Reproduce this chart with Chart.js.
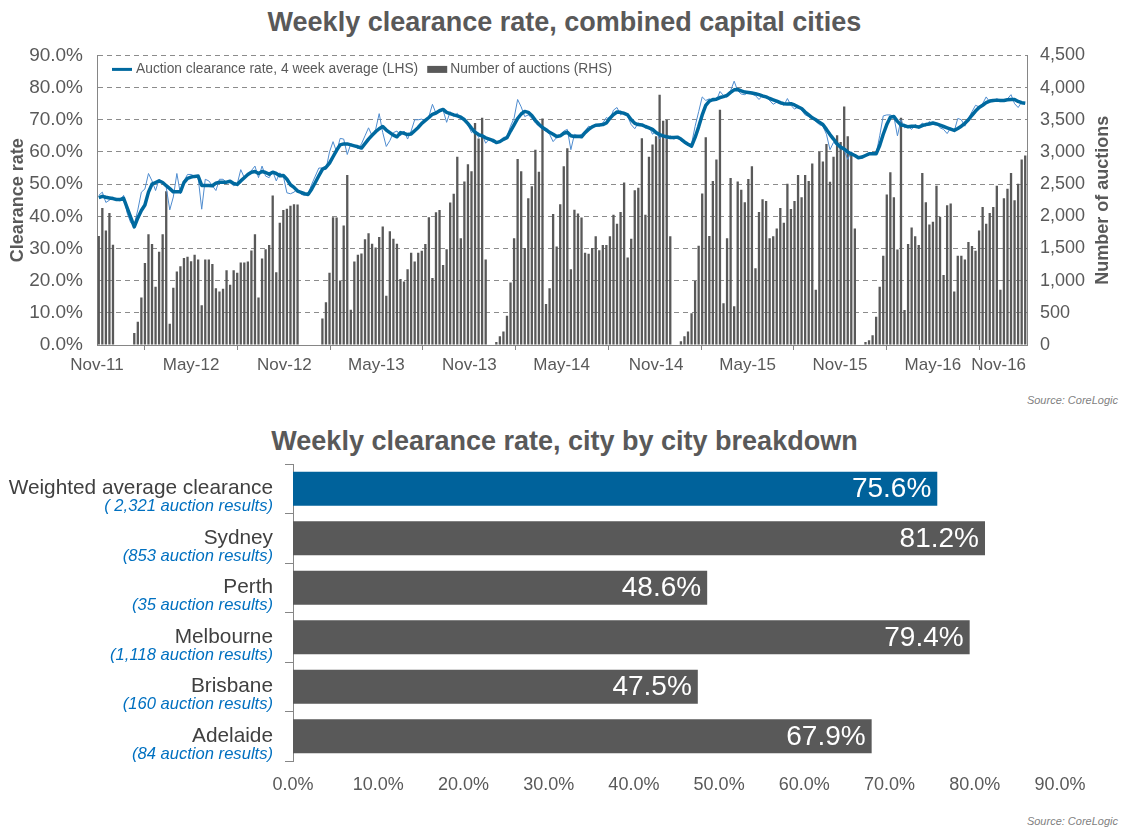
<!DOCTYPE html>
<html>
<head>
<meta charset="utf-8">
<title>Weekly clearance rate</title>
<script src="https://cdn.jsdelivr.net/npm/chart.js@4.4.0/dist/chart.umd.min.js"></script>
<style>
  html, body { margin: 0; padding: 0; background: #fff; }
  body { position: relative; width: 1129px; height: 834px; overflow: hidden; font-family: "Liberation Sans", Arial, sans-serif; }
  .title { position: absolute; left: 0; width: 1129px; text-align: center; font-size: 27px; font-weight: bold; color: #595959; line-height: 32px; }
  .source { position: absolute; right: 11px; font-size: 11px; font-style: italic; color: #7f7f7f; }
  .box { position: absolute; left: 0; width: 1129px; }
</style>
</head>
<body>
<div class="title" style="top:6px">Weekly clearance rate, combined capital cities</div>
<div class="box" style="top:30px;height:355px"><canvas id="weeklyChart"></canvas></div>
<div class="source" style="top:394px">Source: CoreLogic</div>
<div class="title" style="top:425px">Weekly clearance rate, city by city breakdown</div>
<div class="box" style="top:455px;height:355px"><canvas id="cityChart"></canvas></div>
<div class="source" style="top:815px">Source: CoreLogic</div>

<script>
// colours / fonts
const FONT = '"Liberation Sans", Arial, sans-serif';
const TEXT = '#595959';
const AXIS = '#868686';
const GRID = '#8c8c8c';
const BLUE_DARK = '#00699f';
const BLUE_LIGHT = '#4f8ccf';
const BLUE_BAR = '#00629b';
const GREY_BAR = '#595959';

// weekly auctions (RHS), Nov-11 .. Nov-16
const AUCTIONS = [
  1695, 2128, 1781, 2052, 1559, 0, 0, 0, 0, 0,
  186, 362, 739, 1273, 1720, 1569, 905, 1449, 1720, 2389,
  332, 890, 1142, 1222, 1353, 1373, 1303, 1403, 1328, 619,
  1328, 1328, 1258, 880, 830, 875, 1162, 936, 1162, 1122,
  1283, 1283, 1298, 1469, 1720, 739, 1343, 1489, 1554, 2324,
  1132, 1901, 2098, 2118, 2163, 2188, 2183, 0, 0, 0,
  0, 0, 0, 412, 664, 1122, 1987, 1982, 1001, 1856,
  2641, 548, 1298, 1403, 1423, 1645, 1735, 1574, 1514, 1680,
  1841, 765, 1766, 1650, 1574, 1026, 986, 1177, 1434, 1298,
  1434, 1464, 1569, 1987, 1041, 2062, 2098, 1242, 1489, 2213,
  2349, 2927, 1660, 2540, 2807, 2701, 3451, 3209, 3531, 1328,
  0, 0, 45, 136, 211, 453, 971, 1660, 2892, 2701,
  1509, 2279, 2465, 3033, 2691, 3521, 639, 880, 2037, 1529,
  2188, 2777, 3058, 1177, 2103, 2042, 1982, 1434, 1418, 1509,
  1690, 1474, 1554, 1554, 1690, 2022, 1886, 2067, 2525, 1358,
  1650, 2404, 2445, 3214, 2022, 2927, 3114, 3244, 3888, 3486,
  3501, 1690, 0, 0, 60, 136, 211, 493, 996, 1544,
  2354, 3229, 1695, 2550, 2882, 3657, 649, 1660, 2595, 604,
  2540, 2414, 2218, 2580, 2777, 1192, 2067, 2264, 2238, 1660,
  1690, 1811, 2128, 1901, 2505, 2113, 2238, 2641, 2294, 2641,
  2550, 2822, 860, 3003, 2852, 3124, 2535, 2927, 3259, 3154,
  3707, 3244, 2973, 1811, 0, 0, 45, 75, 151, 438,
  905, 1388, 2339, 2686, 2294, 1484, 3531, 543, 1569, 1826,
  1690, 1554, 2671, 2218, 1871, 1916, 2475, 1992, 1087, 2173,
  2198, 830, 1388, 1388, 1328, 1600, 1539, 1464, 1781, 2143,
  1886, 2052, 2143, 2475, 860, 2279, 2429, 2671, 2248, 2505,
  2882, 2943
];

// clearance rate, 4 week average (LHS)
const CLEARANCE_4WK = [
  45.8, 46.2, 45.9, 45.7, 45.5, 45.2, 45.2, 45.6, 42.6, 39.7,
  36.7, 39.5, 41.8, 43.5, 47.5, 50.0, 50.5, 51.0, 50.5, 49.5,
  48.6, 47.6, 47.6, 47.6, 50.5, 51.8, 52.2, 52.4, 52.5, 49.6,
  49.6, 49.6, 49.5, 50.3, 50.6, 50.6, 50.6, 50.9, 50.2, 49.9,
  51.0, 52.0, 53.0, 53.7, 53.9, 53.3, 53.9, 53.6, 53.1, 53.7,
  53.3, 52.6, 52.7, 51.5, 49.8, 49.0, 47.8, 47.4, 47.0, 46.8,
  48.5, 50.5, 52.6, 54.6, 55.2, 56.5, 58.5, 60.5, 62.2, 62.5,
  62.5, 62.2, 61.9, 61.6, 61.2, 62.6, 64.0, 65.2, 66.3, 67.2,
  67.9, 66.8, 66.0, 65.2, 64.7, 66.0, 65.8, 65.4, 65.6, 66.6,
  67.6, 68.9, 69.8, 70.7, 71.7, 72.1, 72.8, 73.2, 72.3, 71.9,
  71.5, 71.2, 70.8, 70.0, 68.8, 67.4, 66.1, 65.4, 65.0, 64.4,
  64.0, 63.6, 62.9, 63.2, 63.9, 64.4, 66.5, 68.4, 70.4, 71.8,
  72.6, 72.3, 71.3, 69.8, 68.6, 67.6, 66.9, 66.1, 65.5, 64.8,
  65.0, 65.8, 66.1, 65.0, 64.8, 64.9, 64.7, 66.0, 67.0, 67.8,
  68.3, 68.4, 68.5, 69.0, 70.5, 71.6, 72.4, 72.3, 72.0, 71.5,
  70.0, 68.9, 68.5, 68.4, 67.9, 67.5, 67.0, 66.0, 65.4, 65.0,
  64.7, 64.5, 64.5, 64.6, 64.0, 63.1, 62.4, 61.8, 64.5, 67.8,
  71.5, 74.5, 75.8, 76.3, 76.4, 76.9, 77.2, 77.6, 78.5, 79.3,
  79.4, 79.0, 78.6, 78.5, 78.3, 78.1, 77.8, 77.4, 77.1, 76.6,
  76.2, 75.8, 75.3, 75.0, 74.9, 75.0, 74.6, 74.0, 73.5, 72.4,
  71.5, 70.6, 70.0, 69.2, 68.5, 67.0, 65.4, 64.0, 62.5, 61.5,
  60.9, 60.0, 59.4, 58.9, 58.2, 58.4, 58.9, 59.4, 59.4, 59.4,
  62.0, 65.5, 68.5, 70.8, 71.0, 69.5, 68.4, 68.2, 67.8, 68.0,
  68.0, 67.7, 68.2, 68.5, 68.7, 69.0, 68.7, 68.3, 67.9, 67.5,
  67.1, 66.7, 67.3, 68.0, 68.9, 70.0, 71.4, 72.7, 73.8, 74.5,
  75.3, 75.8, 76.0, 76.1, 76.0, 76.0, 76.2, 76.3, 76.3, 75.7,
  75.3, 75.1
];

// clearance rate, weekly result (thin line)
const CLEARANCE_WEEKLY = [
  46.5, 47.5, 44.3, 45.0, 46.0, 45.0, 44.8, 46.5, 41.0, 38.0,
  37.5, 42.0, 47.5, 48.5, 53.3, 51.0, 48.0, 51.5, 50.5, 49.0,
  42.0, 46.0, 53.3, 47.0, 51.0, 53.0, 53.0, 52.5, 52.0, 42.2,
  51.5, 51.0, 49.5, 48.0, 51.5, 51.5, 50.5, 50.5, 49.5, 50.0,
  54.5, 52.0, 53.0, 54.2, 55.6, 52.0, 55.6, 52.5, 52.0, 54.0,
  51.0, 53.5, 52.5, 47.3, 47.0, 47.5, 48.5, 46.8, 46.5, 47.0,
  50.0, 52.5, 55.0, 55.0, 54.5, 60.0, 63.2, 60.0, 64.2, 64.0,
  59.2, 62.5, 62.0, 61.0, 62.5, 65.0, 67.5, 65.0, 67.0, 71.9,
  66.0, 61.7, 63.5, 66.0, 66.5, 65.0, 66.5, 64.0, 66.5, 70.0,
  70.0, 70.2, 69.5, 71.0, 74.8, 72.0, 72.5, 73.0, 69.2, 72.5,
  71.0, 72.0, 70.0, 70.5, 68.5, 66.0, 67.0, 64.5, 65.5, 62.7,
  64.0, 63.0, 63.0, 63.5, 64.5, 64.8, 68.0, 70.5, 76.3, 74.0,
  71.0, 71.5, 70.5, 69.0, 68.0, 67.0, 66.5, 65.5, 63.2, 64.5,
  65.0, 66.5, 67.0, 60.7, 65.5, 65.0, 65.5, 66.5, 68.0, 67.5,
  68.5, 68.0, 69.0, 70.7, 70.0, 73.0, 73.8, 71.5, 72.5, 71.0,
  68.5, 67.2, 69.0, 68.5, 67.5, 68.0, 65.5, 66.5, 64.0, 65.5,
  64.0, 65.0, 64.0, 64.5, 63.5, 62.8, 62.0, 62.5, 68.0, 72.5,
  77.1, 76.0, 76.5, 75.8, 76.0, 78.8, 77.5, 77.0, 79.0, 82.0,
  79.0, 78.0, 77.8, 78.5, 78.0, 77.5, 76.3, 77.5, 77.0, 76.0,
  74.8, 75.5, 75.0, 74.5, 76.6, 74.5, 73.3, 74.0, 73.0, 71.5,
  71.0, 70.5, 69.5, 68.5, 68.0, 65.5, 60.7, 63.0, 62.0, 61.0,
  60.5, 57.7, 60.0, 59.0, 58.5, 58.0, 59.0, 59.5, 59.4, 59.4,
  65.0, 71.2, 71.5, 71.5, 71.0, 65.0, 70.0, 67.5, 68.0, 67.0,
  68.5, 67.5, 69.0, 68.0, 69.5, 68.5, 69.0, 67.5, 67.0, 65.7,
  67.5, 66.5, 70.4, 70.0, 68.0, 70.5, 72.5, 74.5, 74.0, 75.0,
  77.1, 75.5, 76.0, 76.5, 76.0, 76.0, 76.5, 77.8, 75.0, 73.8,
  75.5, 75.0
];

// x axis: week number of each date label
const TICK_WEEKS = [-0.5, 26, 52.3, 78.2, 104.4, 130.4, 157, 182.8, 208.8, 235, 261.5];
const TICK_LABELS = ['Nov-11', 'May-12', 'Nov-12', 'May-13', 'Nov-13', 'May-14', 'Nov-14', 'May-15', 'Nov-15', 'May-16', 'Nov-16'];

// city breakdown
const CITIES = ['Weighted average clearance', 'Sydney', 'Perth', 'Melbourne', 'Brisbane', 'Adelaide'];
const CITY_RESULTS = ['( 2,321 auction results)', '(853 auction results)', '(35 auction results)', '(1,118 auction results)', '(160 auction results)', '(84 auction results)'];
const CITY_RATES = [75.6, 81.2, 48.6, 79.4, 47.5, 67.9];

Chart.defaults.font.family = FONT;
Chart.defaults.color = TEXT;

// axis titles + legend drawn inside the plot
const weeklyDecor = {
  id: 'weeklyDecor',
  afterDraw(chart) {
    const { ctx, chartArea: ca } = chart;
    const midY = (ca.top + ca.bottom) / 2;
    ctx.save();
    ctx.fillStyle = TEXT;
    ctx.font = 'bold 18px ' + FONT;
    ctx.textAlign = 'center';
    ctx.textBaseline = 'middle';
    [['Clearance rate', 18], ['Number of auctions', 1103]].forEach(([txt, x]) => {
      ctx.save();
      ctx.translate(x, midY);
      ctx.rotate(-Math.PI / 2);
      ctx.fillText(txt, 0, 0);
      ctx.restore();
    });

    const ly = ca.top + 14;
    let x = ca.left + 15;
    ctx.strokeStyle = BLUE_DARK;
    ctx.lineWidth = 3;
    ctx.beginPath();
    ctx.moveTo(x, ly);
    ctx.lineTo(x + 20, ly);
    ctx.stroke();
    ctx.font = '13.8px ' + FONT;
    ctx.textAlign = 'left';
    const t1 = chart.data.datasets[0].label;
    ctx.fillText(t1, x + 24, ly);
    x += 24 + ctx.measureText(t1).width + 9;
    ctx.fillStyle = GREY_BAR;
    ctx.fillRect(x, ly - 3.5, 20, 7);
    ctx.fillStyle = TEXT;
    ctx.fillText(chart.data.datasets[2].label, x + 23, ly);
    ctx.restore();
  }
};

// category names and values for the city chart
const cityLabels = {
  id: 'cityLabels',
  afterDatasetsDraw(chart) {
    const { ctx, scales: { x, y } } = chart;
    const bars = chart.getDatasetMeta(0).data;
    ctx.save();
    ctx.textBaseline = 'middle';
    bars.forEach((bar, i) => {
      ctx.textAlign = 'right';
      ctx.fillStyle = '#fff';
      ctx.font = '28px ' + FONT;
      ctx.fillText(CITY_RATES[i].toFixed(1) + '%', bar.x - 6, bar.y + 1);

      const cy = y.getPixelForValue(i);
      ctx.fillStyle = '#404040';
      ctx.font = '20.8px ' + FONT;
      ctx.fillText(CITIES[i], x.left - 20, cy);
      ctx.fillStyle = '#0070c0';
      ctx.font = 'italic 16.6px ' + FONT;
      ctx.fillText(CITY_RESULTS[i], x.left - 20, cy + 18);
    });
    ctx.restore();
  }
};

function initWeeklyChart() {
  const ctx = document.getElementById('weeklyChart').getContext('2d');
  new Chart(ctx, {
    type: 'bar',
    data: {
      labels: AUCTIONS.map((_, i) => i),
      datasets: [
        { type: 'line', label: 'Auction clearance rate, 4 week average (LHS)', data: CLEARANCE_4WK, yAxisID: 'y',
          borderColor: BLUE_DARK, borderWidth: 3.5, pointRadius: 0, tension: 0, borderJoinStyle: 'round' },
        { type: 'line', label: 'Auction clearance rate, weekly', data: CLEARANCE_WEEKLY, yAxisID: 'y',
          borderColor: BLUE_LIGHT, borderWidth: 1, pointRadius: 0, tension: 0 },
        { type: 'bar', label: 'Number of auctions (RHS)', data: AUCTIONS, yAxisID: 'y2',
          backgroundColor: GREY_BAR, categoryPercentage: 1, barPercentage: 0.65 }
      ]
    },
    options: {
      responsive: true,
      maintainAspectRatio: false,
      animation: false,
      layout: { padding: { top: 17, left: 0, right: 0, bottom: 0 } },
      plugins: { legend: { display: false }, tooltip: { enabled: false } },
      scales: {
        x: {
          type: 'linear',
          offset: false,
          min: -0.5,
          max: AUCTIONS.length - 0.5,
          afterBuildTicks: s => { s.ticks = TICK_WEEKS.map(v => ({ value: v })); },
          ticks: {
            autoSkip: false, maxRotation: 0, padding: 5, color: TEXT, font: { size: 17 },
            // last label sits inside the plot edge, as in the original
            callback: (v, i) => i === TICK_LABELS.length - 1 ? TICK_LABELS[i] + '\u2007'.repeat(6) : TICK_LABELS[i]
          },
          grid: { drawOnChartArea: false, drawTicks: true, tickLength: 5, color: AXIS },
          border: { color: AXIS },
          afterFit: s => { s.height = 40; }
        },
        y: {
          position: 'left',
          min: 0, max: 90,
          ticks: { stepSize: 10, padding: 14, color: TEXT, font: { size: 19 }, callback: v => v.toFixed(1) + '%' },
          grid: { color: GRID, drawTicks: false },
          border: { color: AXIS, dash: [5, 4] },
          afterFit: s => { s.width = 97; }
        },
        y2: {
          position: 'right',
          min: 0, max: 4500,
          ticks: { stepSize: 500, padding: 13, color: TEXT, font: { size: 18 }, callback: v => v.toLocaleString('en-US') },
          grid: { drawOnChartArea: false, drawTicks: false },
          border: { color: AXIS },
          afterFit: s => { s.width = 102; }
        }
      }
    },
    plugins: [weeklyDecor]
  });
}

function initCityChart() {
  const ctx = document.getElementById('cityChart').getContext('2d');
  new Chart(ctx, {
    type: 'bar',
    data: {
      labels: CITIES,
      datasets: [{
        data: CITY_RATES,
        backgroundColor: c => c.dataIndex === 0 ? BLUE_BAR : GREY_BAR,
        categoryPercentage: 1,
        barPercentage: 0.69
      }]
    },
    options: {
      indexAxis: 'y',
      responsive: true,
      maintainAspectRatio: false,
      animation: false,
      layout: { padding: { top: 9, right: 69, left: 0, bottom: 0 } },
      plugins: { legend: { display: false }, tooltip: { enabled: false } },
      scales: {
        x: {
          min: 0, max: 90,
          ticks: { stepSize: 10, padding: 13, color: TEXT, font: { size: 18 }, callback: v => v.toFixed(1) + '%' },
          grid: { display: false, drawTicks: false },
          border: { display: false },
          afterFit: s => { s.height = 49; }
        },
        y: {
          ticks: { display: false },
          grid: { drawOnChartArea: false, tickLength: 8, color: AXIS },
          border: { color: AXIS },
          afterFit: s => { s.width = 293; }
        }
      }
    },
    plugins: [cityLabels]
  });
}

document.addEventListener('DOMContentLoaded', () => {
  initWeeklyChart();
  initCityChart();
});
</script>
</body>
</html>
